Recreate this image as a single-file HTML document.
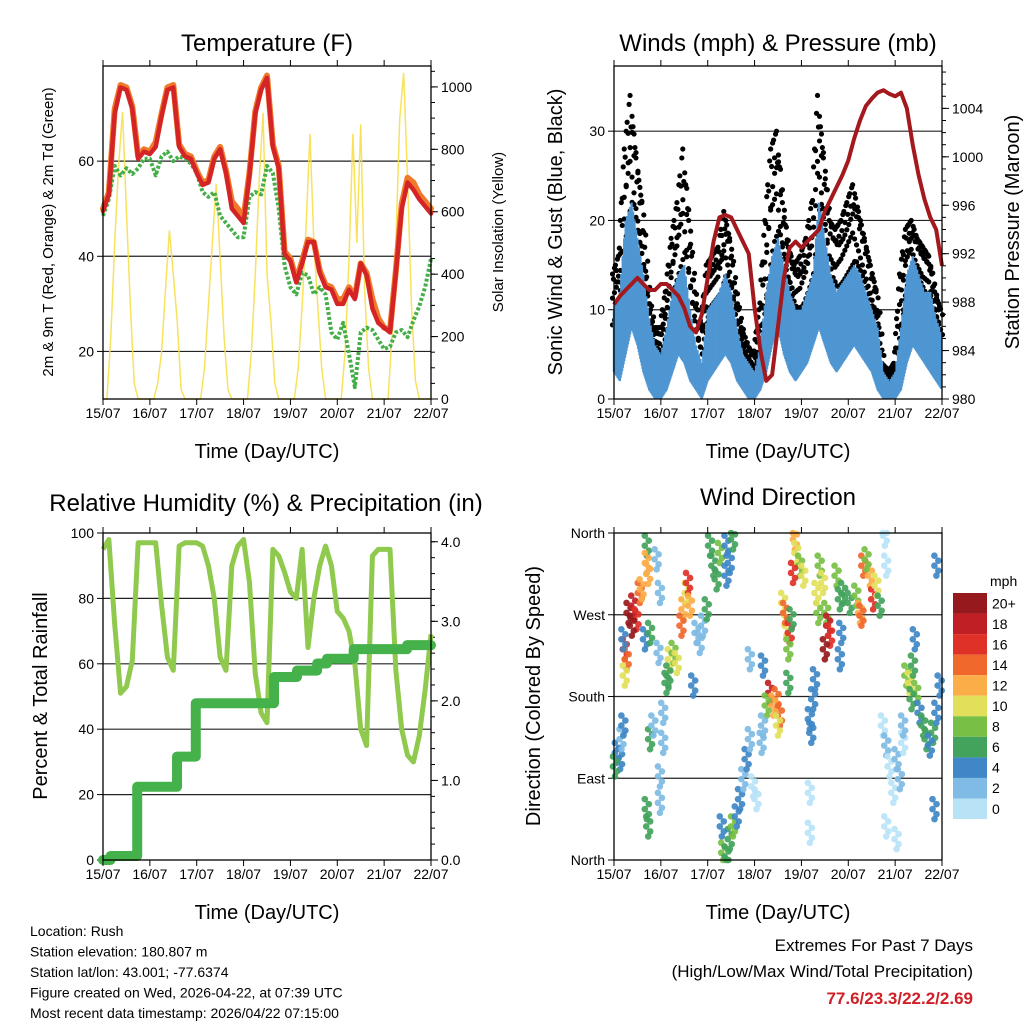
<!DOCTYPE html>
<html><head><meta charset="utf-8"><style>
html,body{margin:0;padding:0;background:#fff;}
svg{display:block;font-family:"Liberation Sans",Arial,sans-serif;}
</style></head><body>
<svg id="c" width="1024" height="1024" viewBox="0 0 1024 1024" xmlns="http://www.w3.org/2000/svg">
<rect width="1024" height="1024" fill="#fff"/>
</svg>
<script>
// ---------- DATA (3-hourly unless noted) ----------
const dayLabels = ["15/07","16/07","17/07","18/07","19/07","20/07","21/07","22/07"];
const tempRed = [49.5,53,70,75.5,75,71,60.5,62, 61.5,63,69.5,75,75.5,63,61,60.5, 57.5,55,55.5,60.5,62.5,57.5,50,48.5, 47,57,70,75,77.5,63,58.5,40.5, 39,34.5,38.5,43,43,36.5,33.5,33, 30,30,33,31,38.5,36,29,26, 25,24,36.5,50,55.5,54,52,50.5,49];
const tempOrange = [50,53.5,71,76,75.5,71.5,61,62.5, 62,64,70,75.5,76,63.5,61.5,61, 58,55.5,56,61,63,58,51.5,50, 48,57.5,70.5,75.5,78,63.5,59,41, 39.5,35,39,43.5,43,37,34,33.5, 31,31,33.5,31.5,38.5,36.5,31,27, 25,24.5,37,51,56.5,55.5,53,51.5,50];
const tempDew = [48.5,52,59,57,58.5,57.3,58.5,60.5, 60.5,57,61,62,60,61,60.5,59.5, 57.5,53.5,52.5,53.5,48.5,47,45.5,44, 44,52.5,53.5,53,59,57.5,50,38, 33.5,32,36.5,36,32,33.5,32,24, 22.5,26,19.5,12.5,24,25,24.5,22.5, 20.5,21,24,24.5,23,26.5,29.5,33.5,39.5];
// solar insolation, 2-hourly
const solar = [0,0,200,500,750,920,600,300,50,0,0,0, 0,0,50,150,350,540,400,250,30,0,0,0, 0,0,100,300,500,690,450,200,30,0,0,0, 0,0,150,400,700,917,400,250,50,0,0,0, 0,0,100,300,550,850,500,300,100,0,0,0, 0,0,150,450,850,500,880,350,100,0,0,0, 0,0,200,500,900,1045,700,300,60,0,0,0, 0];
const windHi = [10,12,20,22,18,14,9,6, 5,8,12,14,15,10,6,4, 10,11,12,14,12,8,5,4, 3,6,12,16,18,15,12,10, 10,12,14,22,18,14,12,13, 14,15,14,12,10,8,3,2, 3,8,14,16,14,12,12,9, 7];
const windLo = [3,2,5,8,6,3,1,0, 0,1,3,5,4,2,1,0, 2,3,4,5,4,2,1,0, 0,1,3,6,8,5,3,2, 3,4,6,8,6,4,3,4, 5,6,5,4,3,1,0,0, 0,1,4,6,5,4,3,2, 1];
const gustHi = [14,16,28,34,27,22,12,8, 8,12,18,22,28,20,12,8, 15,16,17,21,18,12,8,6, 5,10,20,28,30,22,17,15, 16,18,22,34,27,20,19,20, 22,24,21,18,15,12,4,3, 4,14,19,20,18,17,16,12, 10];
const pressure = [987.8,988.5,989,989.5,990,989.5,989,989, 989.5,989.5,989,988.5,987.5,986,985.5,987, 990,993,995,995.2,995,994,993,992, 987.5,984,981.5,982,986,990,992.5,993, 992.5,993,993.5,994,995.5,996.5,997.5,998.5, 999.7,1001.5,1003,1004.2,1004.8,1005.3,1005.5,1005.2, 1005,1005.3,1004,1001,998.5,996.5,995,994, 991];
const rh = [95,98,72,51,53,61,97,97, 97,97,78,62,58,96,97,97, 97,96,90,80,62,58,90,96, 98,85,57,45,42,95,93,88, 82,80,95,65,80,90,96,90, 76,74,70,60,40,35,93,95, 95,95,58,40,32,30,38,52,69];
const precipDays = [0,0.16,0.73,1.58,1.98,3.65,4.14,4.57,4.78,5.35,6.49,7];
const precipTotals = [0,0.05,0.92,1.3,1.97,2.3,2.38,2.47,2.53,2.65,2.7,2.7];
const dirDays = [0.06,0.13,0.02,0.16,0.2,0.31,0.41,0.48,0.38,0.55,0.59,0.23,0.27,0.23,0.2,0.7,0.7,0.73,0.66,0.77,0.7,0.73,0.77,0.84,0.91,0.98,0.95,1.05,1.19,1.27,1.34,1.16,1.12,1.48,1.55,1.58,1.44,1.62,1.76,1.83,1.9,1.69,1.98,1.05,0.98,0.98,2.05,2.12,2.19,2.26,2.4,2.47,2.54,2.4,2.33,2.47,2.54,2.62,2.3,2.4,2.69,2.76,2.83,2.9,2.97,3.04,2.9,3.18,3.33,3.47,3.4,3.54,3.26,3.5,3.61,3.68,3.65,3.75,3.79,3.72,3.72,3.86,3.89,3.97,4.04,3.82,3.18,3.15,4.18,4.21,4.25,4.29,4.36,4.39,4.46,4.53,4.57,4.61,4.5,4.75,4.82,4.89,4.85,4.82,4.32,4.18,4.18,5.03,5.17,5.25,5.32,5.46,5.53,5.6,5.67,5.39,5.28,5.74,5.81,5.88,5.96,5.81,6.03,5.78,5.81,6.24,6.31,6.38,6.45,6.35,6.52,6.6,6.67,6.81,6.74,6.88,6.95,6.17,6.1,6.17,6.03,6.42,6.88,6.84];
const dirDeg = [118,111,103,133,148,272,280,265,258,294,298,232,221,203,243,346,327,315,243,250,56,37,133,148,331,294,228,162,221,228,217,203,195,276,294,305,258,280,250,239,258,192,276,129,92,63,346,324,309,338,346,327,353,313,8,23,37,48,37,4,67,89,111,133,81,67,221,214,184,177,170,159,170,148,283,258,272,250,265,232,195,353,338,324,313,316,148,129,155,140,177,199,272,324,305,272,258,247,232,313,287,294,250,221,294,74,30,283,291,272,324,313,287,302,280,331,269,148,126,103,74,37,111,357,324,203,195,214,184,177,162,148,133,140,126,162,192,129,89,148,23,243,324,56];
const dirSpeed = [4,4,6,3,4,20,18,16,20,14,12,16,14,10,4,7,12,12,4,6,6,6,6,2,2,2,2,2,10,8,10,7,6,12,10,16,14,12,3,3,2,4,6,2,3,2,6,7,6,8,4,4,6,4,8,7,8,4,4,6,4,3,4,3,1,1,2,4,18,14,12,14,8,10,10,10,14,16,6,8,6,12,10,8,10,16,3,2,4,4,4,4,8,8,10,8,18,16,20,8,6,6,4,4,10,1,1,6,8,12,14,12,16,10,6,8,14,1,2,1,1,1,3,1,1,8,10,6,8,6,4,6,6,6,4,4,4,1,2,2,1,4,4,4];
const speedColors = ["#b8e3f7","#7fbbe4","#3f87c6","#43a35c","#78c045","#e2df5a","#fbad48","#f0682c","#df3128","#c11f26","#961a1d"];
const speedLabels = ["0","2","4","6","8","10","12","14","16","18","20+"];

// ---------- HELPERS ----------
const NS="http://www.w3.org/2000/svg";
const svg=document.getElementById('c');
function el(tag,attrs,parent){const e=document.createElementNS(NS,tag);for(const k in attrs)e.setAttribute(k,attrs[k]);(parent||svg).appendChild(e);return e;}
function txt(s,x,y,size,anchor,parent,extra){const t=el('text',Object.assign({x:x,y:y,'font-size':size,'text-anchor':anchor||'middle',fill:'#000'},extra||{}),parent);t.textContent=s;return t;}
function xS(P,d){return P.x+d/7*P.w;}

function frame(P,name){
  const g=el('g',{});
  
  
  el('rect',{x:P.x,y:P.y,width:P.w,height:P.h,fill:'none',stroke:'#000','stroke-width':1.3},g);
  for(let i=0;i<=7;i++){const x=xS(P,i);
    el('line',{x1:x,y1:P.y+P.h,x2:x,y2:P.y+P.h+6,stroke:'#000'},g);
    el('line',{x1:x,y1:P.y,x2:x,y2:P.y-6,stroke:'#000'},g);
    const t=txt(dayLabels[i],x,P.y+P.h+19,14,'middle',g);
    
    
  }
  const xt=txt('Time (Day/UTC)',P.x+P.w/2,P.y+P.h+59,20,'middle');
  
  
}
function leftAxis(P,vals,labels,yf,grid,name){
  const g=el('g',{});
  
  
  vals.forEach((v,i)=>{const y=yf(v);
    if(grid && y>P.y+2 && y<P.y+P.h-2) el('line',{x1:P.x,y1:y,x2:P.x+P.w,y2:y,stroke:'#222','stroke-width':1.2},g);
    el('line',{x1:P.x-6,y1:y,x2:P.x,y2:y,stroke:'#000'},g);
    txt(labels[i],P.x-9,y+5,14,'end',g);
  });
}
function rightAxis(P,vals,labels,yf,minors,name){
  const g=el('g',{});
  
  
  minors.forEach(v=>{const y=yf(v);if(y>=P.y-0.5)el('line',{x1:P.x+P.w,y1:y,x2:P.x+P.w+4,y2:y,stroke:'#000'},g);});
  vals.forEach((v,i)=>{const y=yf(v);
    el('line',{x1:P.x+P.w,y1:y,x2:P.x+P.w+7,y2:y,stroke:'#000'},g);
    txt(labels[i],P.x+P.w+10,y+5,14,'start',g);
  });
}
function vtitle(s,x,y,size,name){const t=txt(s,x,y,size,'middle',null,{transform:'rotate(-90 '+x+' '+y+')'});
  }
function title(s,x,y,name){const t=txt(s,x,y,24,'middle');}
function range(a,b,s){const r=[];for(let v=a;v<=b+1e-9;v+=s)r.push(+v.toFixed(3));return r;}

// ---------- PANEL 1: Temperature ----------
const P1={x:103,y:66,w:328,h:333};
const tY=v=>P1.y+P1.h-(v-10)/70*P1.h;
const sY=v=>P1.y+P1.h-v/1067*P1.h;
title('Temperature (F)',267,51,'temperature-title');
leftAxis(P1,[20,40,60],['20','40','60'],tY,true,'temp-left-axis');
rightAxis(P1,[0,200,400,600,800,1000],['0','200','400','600','800','1000'],sY,range(0,1050,50),'solar-right-axis');
(function(){
  const g=el('g',{});
  
  
  el('polyline',{points:solar.map((v,i)=>xS(P1,i/12)+','+sY(v)).join(' '),fill:'none',stroke:'#f7df4a','stroke-width':1.5,opacity:0.9},g);
  const o=el('polyline',{points:tempOrange.map((v,i)=>xS(P1,i/8)+','+tY(v)).join(' '),fill:'none',stroke:'#f07a2a','stroke-width':6,'stroke-linejoin':'round','stroke-linecap':'round'});
  
  
  const d=el('polyline',{points:tempDew.map((v,i)=>xS(P1,i/8)+','+tY(v)).join(' '),fill:'none',stroke:'#45ae48','stroke-width':4,'stroke-dasharray':'3 2','stroke-linejoin':'round'});
  
  
  const r=el('polyline',{points:tempRed.map((v,i)=>xS(P1,i/8)+','+tY(v)).join(' '),fill:'none',stroke:'#d42426','stroke-width':4.5,'stroke-linejoin':'round','stroke-linecap':'round'});
  
  
})();
frame(P1,'temperature');
vtitle('2m & 9m T (Red, Orange) & 2m Td (Green)',53,232,15,'temp-y-axis-title');
vtitle('Solar Insolation (Yellow)',503,232,15,'solar-y-axis-title');

// ---------- PANEL 2: Winds ----------
const P2={x:614,y:66,w:328,h:333};
const wY=v=>P2.y+P2.h-v/37.3*P2.h;
const pY=v=>P2.y+P2.h-(v-980)/27.5*P2.h;
title('Winds (mph) & Pressure (mb)',778,51,'winds-title');
leftAxis(P2,[0,10,20,30],['0','10','20','30'],wY,true,'wind-left-axis');
rightAxis(P2,[980,984,988,992,996,1000,1004],['980','984','988','992','996','1000','1004'],pY,range(980,1007,1),'pressure-right-axis');
(function(){
  const n=windHi.length;
  const gd=el('g',{});
  
  
  // dot cloud between sustained wind top and gust top
  for(let i=0;i<n-1;i++){
    for(let s=0;s<6;s++){
      const f=s/6;
      const x=xS(P2,(i+f)/8);
      const top=gustHi[i]+(gustHi[i+1]-gustHi[i])*f;
      const bot=(windHi[i]+(windHi[i+1]-windHi[i])*f)*0.8;
      const rows=[0.05,0.3,0.55,0.8,1.0];
      rows.forEach((r,k)=>{
        if((s+k)%2===0||r===1.0) el('circle',{cx:x+(k%2?1.5:-1.5),cy:wY(bot+(top-bot)*r*((s%3===1&&r===1)?0.85:1)),r:2.6,fill:'#000'},gd);
      });
    }
  }
  const b=el('g',{});
  
  
  for(let i=0;i<n-1;i++){
    for(let s=0;s<8;s++){
      const f=s/8;
      const x=xS(P2,(i+f)/8);
      const hi=windHi[i]+(windHi[i+1]-windHi[i])*f;
      const lo=windLo[i]+(windLo[i+1]-windLo[i])*f;
      const jig=(s%2===0)?1:0.85;
      el('line',{x1:x,y1:wY(lo),x2:x,y2:wY(hi*jig),stroke:'#4f96d2','stroke-width':2.4},b);
    }
  }
  const p=el('polyline',{points:pressure.map((v,i)=>xS(P2,i/8)+','+pY(v)).join(' '),fill:'none',stroke:'#a3191e','stroke-width':4,'stroke-linejoin':'round'});
  
  
})();
frame(P2,'winds');
vtitle('Sonic Wind & Gust (Blue, Black)',562,232,20,'wind-y-axis-title');
vtitle('Station Pressure (Maroon)',1019,232,20,'pressure-y-axis-title');

// ---------- PANEL 3: RH & Precip ----------
const P3={x:103,y:533,w:328,h:327};
const hY=v=>P3.y+P3.h-v/100*P3.h;
const rY=v=>P3.y+P3.h-v/4.11*P3.h;
title('Relative Humidity (%) & Precipitation (in)',266,511,'rh-precip-title');
leftAxis(P3,[0,20,40,60,80,100],['0','20','40','60','80','100'],hY,true,'rh-left-axis');
rightAxis(P3,[0,1,2,3,4],['0.0','1.0','2.0','3.0','4.0'],rY,range(0,4.1,0.2),'precip-right-axis');
(function(){
  const l=el('polyline',{points:rh.map((v,i)=>xS(P3,i/8)+','+hY(v)).join(' '),fill:'none',stroke:'#8fc94e','stroke-width':5,'stroke-linejoin':'round'});
  
  
  const pts=[];
  for(let i=0;i<precipDays.length;i++){
    if(i>0)pts.push(xS(P3,precipDays[i])+','+rY(precipTotals[i-1]));
    pts.push(xS(P3,precipDays[i])+','+rY(precipTotals[i]));
  }
  const p=el('polyline',{points:pts.join(' '),fill:'none',stroke:'#45b14a','stroke-width':10,'stroke-linejoin':'round','stroke-linecap':'round'});
  
  
})();
frame(P3,'rh-precip');
vtitle('Percent & Total Rainfall',47,696,20,'rh-y-axis-title');

// ---------- PANEL 4: Wind Direction ----------
const P4={x:614,y:533,w:328,h:327};
const dY=v=>P4.y+P4.h-v/360*P4.h;
title('Wind Direction',778,505,'wind-direction-title');
leftAxis(P4,[0,90,180,270,360],['North','East','South','West','North'],dY,true,'direction-left-axis');
(function(){
  const g=el('g',{});
  
  
  const offs=[[-1,-10],[1,-5],[-1,0],[1,5],[0,10]];
  for(let i=0;i<dirDays.length;i++){
    const ci=Math.min(10,Math.floor(dirSpeed[i]/2));
    const x=xS(P4,dirDays[i]),y=dY(dirDeg[i]);
    offs.forEach(o=>{const yy=Math.max(P4.y,Math.min(P4.y+P4.h,y+o[1]));
      el('circle',{cx:x+o[0]*2,cy:yy,r:3.3,fill:speedColors[ci],opacity:0.92},g);});
  }
})();
frame(P4,'wind-direction');
vtitle('Direction (Colored By Speed)',540,696,20,'direction-y-axis-title');
(function(){
  const g=el('g',{});
  
  
  const bh=20.55;
  txt('mph',990,586,14,'start',g);
  for(let k=0;k<11;k++){const idx=10-k;const y=593+k*bh;
    el('rect',{x:953,y:y,width:34,height:bh,fill:speedColors[idx]},g);
    txt(speedLabels[idx],992,y+bh/2+5,14,'start',g);
  }
})();

// ---------- FOOTER ----------
(function(){
  const g=el('g',{});
  
  
  ["Location: Rush","Station elevation: 180.807 m","Station lat/lon: 43.001; -77.6374","Figure created on Wed, 2026-04-22, at 07:39 UTC","Most recent data timestamp: 2026/04/22 07:15:00"].forEach((s,i)=>txt(s,30,936+i*20.5,14,'start',g));
  const e=el('g',{});
  
  
  txt('Extremes For Past 7 Days',973,951,17,'end',e);
  txt('(High/Low/Max Wind/Total Precipitation)',973,977,17,'end',e);
  txt('77.6/23.3/22.2/2.69',973,1004,17,'end',e,{fill:'#d01f26','font-weight':'bold'});
})();
</script>
</body></html>
